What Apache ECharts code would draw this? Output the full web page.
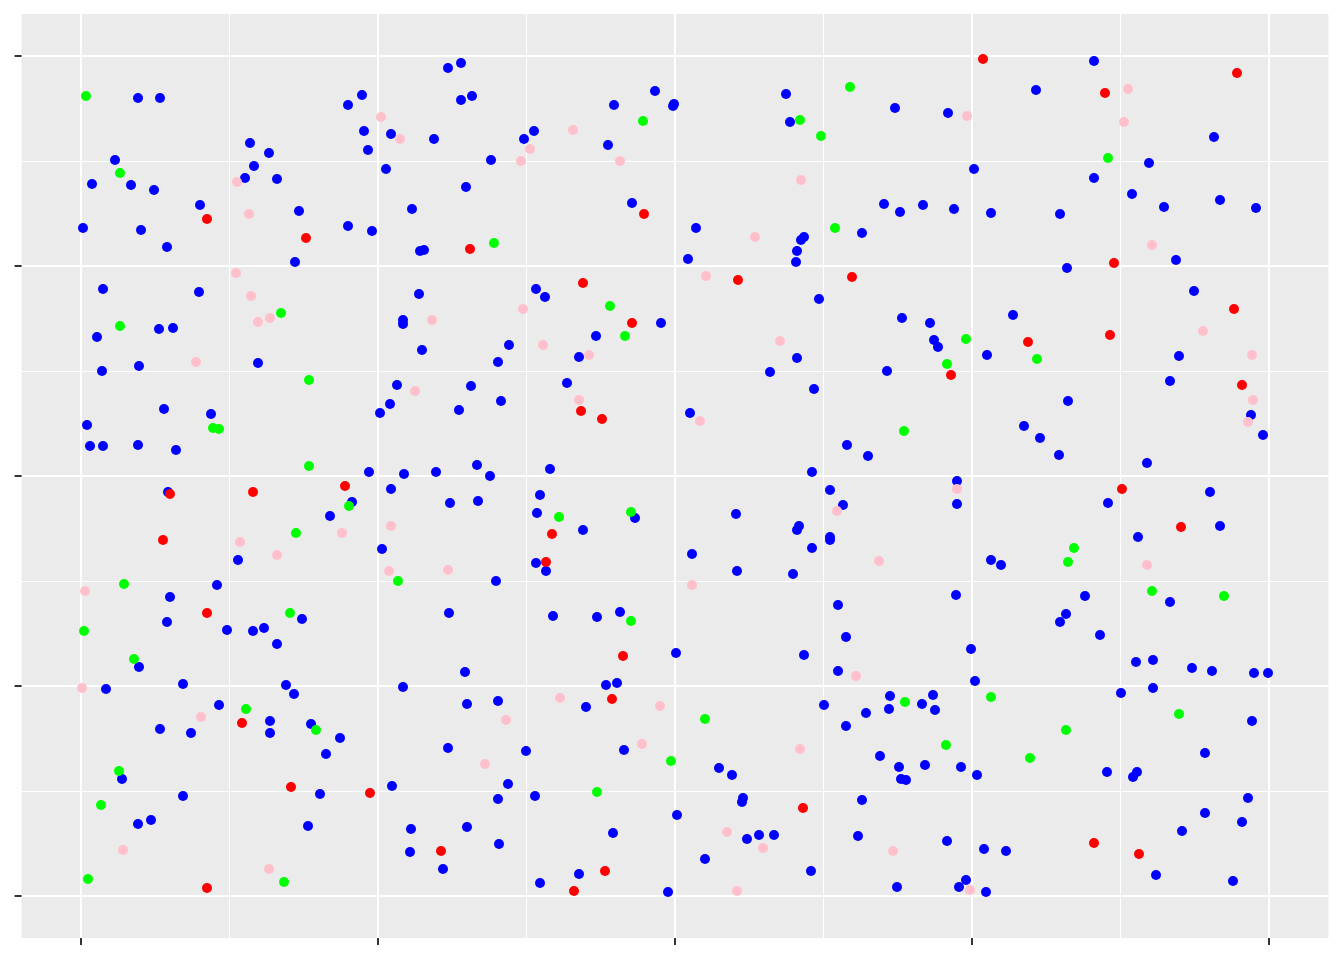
<!DOCTYPE html>
<html>
<head>
<meta charset="utf-8">
<style>html,body{margin:0;padding:0;background:#fff}#chart{width:1344px;height:960px}</style>
<script src="https://cdn.jsdelivr.net/npm/echarts@6/dist/echarts.min.js"></script>
</head>
<body>
<div id="chart"></div>
<script>
const xMajor = [0, 297, 594, 891, 1188];
const xMinor = [148.5, 445.5, 742.5, 1039.5];
const yMajor = [0, 210, 420, 630, 840];
const yMinor = [105, 315, 525, 735];

const bluePoints = [
[2,668],[11,712],[34,736],[50,711],[60,666],[73,706],[86,649],[57,798],[79,798],[119,691],[164,718],[169,753],[173,730],[188,743],[196,717],[218,685],[214,634],[267,791],[281,801],[283,765],[287,746],[310,762],[305,727],[267,670],[291,665],[331,687],[339,645],[343,646],[353,757],[367,828],[380,833],[380,796],[391,800],[385,709],[410,736],[443,757],[453,765],[527,751],[533,791],[551,693],[574,805],[592,790],[593,792],[615,668],[607,637],[705,802],[709,774],[716,645],[720,656],[723,659],[715,634],[803,692],[819,684],[842,691],[873,687],[910,683],[979,682],[867,783],[814,788],[893,727],[955,806],[1013,835],[1013,718],[1051,702],[1068,733],[1083,689],[1133,759],[1139,696],[1175,688],[1095,636],[986,628],[781,663],[738,597],
[22,607],[16,559],[21,525],[58,530],[78,567],[92,568],[118,604],[177,533],[83,487],[130,482],[6,471],[9,450],[22,450],[57,451],[95,446],[87,404],[338,602],[322,576],[322,572],[341,546],[316,511],[309,492],[299,483],[390,510],[417,534],[428,551],[455,607],[464,599],[515,560],[498,539],[486,513],[420,495],[378,486],[580,573],[689,524],[716,538],[733,507],[609,483],[821,578],[849,573],[853,556],[857,549],[806,525],[906,541],[932,581],[1098,540],[1089,515],[1113,605],[987,495],[943,470],[959,458],[978,441],[766,451],[787,440],
[731,424],[749,406],[762,391],[876,415],[876,392],[1066,433],[1027,393],[1129,404],[1139,370],[1170,481],[1182,461],[288,424],[323,422],[310,407],[355,424],[396,431],[409,420],[469,427],[459,401],[456,383],[369,393],[397,395],[271,394],[249,380],[301,347],[502,366],[554,378],[655,382],[611,342],[718,370],[716,366],[731,348],[749,356],[749,359],[712,322],[656,325],[455,333],[465,325],[415,315],[368,283],[472,280],[516,279],[539,284],[757,291],[765,259],[723,241],[757,225],[875,301],[910,336],[920,331],[1057,359],[1004,300],[985,282],[979,274],[1019,261],[1089,294],[890,247],[894,215],[1055,234],[1072,236],[1111,228],[1131,225],[1173,223],[1187,223],[1040,203],[1072,208],[1171,175],
[157,336],[136,311],[89,299],[86,274],[146,266],[172,265],[183,268],[196,252],[221,277],[58,229],[25,207],[102,212],[138,191],[205,211],[213,202],[189,175],[189,163],[230,172],[259,158],[245,142],[79,167],[110,163],[41,117],[102,100],[57,72],[70,76],[239,102],[227,70],[311,110],[322,209],[384,224],[386,192],[417,195],[367,148],[445,145],[427,112],[417,97],[454,100],[330,67],[329,44],[362,27],[386,69],[418,52],[459,13],[498,22],[532,63],[505,189],[525,211],[536,213],[543,146],[595,243],[596,81],[624,37],[587,4],[638,128],[651,121],[662,98],[661,94],[666,57],[678,61],[693,61],[730,25],[743,191],[765,170],[785,183],[809,200],[808,187],[799,140],[818,129],[820,117],[825,116],[844,131],[841,192],[852,201],[854,186],[880,129],[896,121],[781,96],[777,60],[866,55],[816,9],[878,9],[885,16],[903,47],[925,45],[905,4],[1026,124],[1052,119],[1056,124],[1124,143],[1167,98],[1124,83],[1101,65],[1161,74],[1075,21],[1152,15]
];
const redPoints = [
[902,837],[1024,803],[1156,823],[126,677],[225,658],[389,647],[563,682],[502,613],[657,616],[771,619],[1033,633],[551,573],[1153,587],[1029,561],[947,554],[870,521],[1161,511],[500,485],[521,477],[264,410],[172,404],[89,402],[1041,407],[82,356],[471,362],[465,334],[1100,369],[126,283],[542,240],[531,197],[161,173],[210,109],[289,103],[360,45],[722,88],[1013,53],[1058,42],[126,8],[493,5],[524,25]
];
const greenPoints = [
[5,800],[769,809],[562,775],[719,776],[740,760],[39,723],[1027,738],[754,668],[413,653],[39,570],[200,583],[529,590],[544,560],[885,557],[956,537],[866,532],[228,516],[132,468],[138,467],[823,465],[228,430],[268,390],[215,363],[478,379],[550,384],[993,348],[987,334],[43,312],[317,315],[1071,305],[1143,300],[3,265],[209,283],[550,275],[53,237],[910,199],[824,194],[165,187],[624,177],[1098,182],[235,166],[985,166],[865,151],[590,135],[949,138],[38,125],[20,91],[516,104],[7,17],[203,14]
];
const pinkPoints = [
[300,779],[319,757],[492,766],[449,747],[440,735],[539,735],[886,780],[1047,807],[1043,774],[156,714],[168,682],[720,716],[674,659],[1071,651],[155,623],[170,600],[177,574],[189,578],[625,620],[442,587],[351,576],[699,555],[462,551],[508,541],[1122,565],[1171,541],[115,534],[334,505],[498,496],[1172,496],[1167,474],[619,475],[876,407],[756,385],[310,370],[261,363],[159,354],[196,341],[367,326],[308,325],[798,335],[1066,331],[611,311],[4,305],[1,208],[775,220],[479,198],[579,190],[120,179],[425,176],[561,152],[719,147],[404,132],[646,64],[682,48],[42,46],[812,45],[188,27],[656,5],[889,6]
];

const chart = echarts.init(document.getElementById('chart'), null, {renderer: 'canvas'});

function axis(lo, hi, major) {
  return {
    type: 'value', min: lo, max: hi, scale: false,
    axisLine: {show: false, onZero: false},
    axisLabel: {show: false, customValues: major},
    axisTick: {show: true, length: 7, customValues: major, lineStyle: {color: '#333333', width: 2}},
    splitLine: {show: true, lineStyle: {color: '#ffffff', width: 2}},
    minorTick: {show: false}, minorSplitLine: {show: false}
  };
}
const minorLines = xMinor.map(v => ({xAxis: v})).concat(yMinor.map(v => ({yAxis: v})));

function pts(name, data, color, z) {
  return {name, type: 'scatter', data, symbol: 'circle', symbolSize: 10, z,
    itemStyle: {color, opacity: 1, borderWidth: 0}, silent: true};
}
const blueSeries = pts('blue', bluePoints, '#0000ff', 2);
blueSeries.markLine = {silent: true, symbol: 'none', z: 1, animation: false, label: {show: false},
  lineStyle: {color: '#ffffff', width: 1, type: 'solid', opacity: 1}, data: minorLines};

chart.setOption({
  animation: false,
  backgroundColor: '#ffffff',
  grid: {left: 21.6, top: 14, width: 1306.8, height: 924, show: true, backgroundColor: '#ebebeb', borderWidth: 0, containLabel: false},
  xAxis: axis(-59.4, 1247.4, xMajor),
  yAxis: axis(-42, 882, yMajor),
  series: [blueSeries, pts('pink', pinkPoints, '#ffc0cb', 3), pts('green', greenPoints, '#00ff00', 4), pts('red', redPoints, '#ff0000', 5)]
});
</script>
</body>
</html>
